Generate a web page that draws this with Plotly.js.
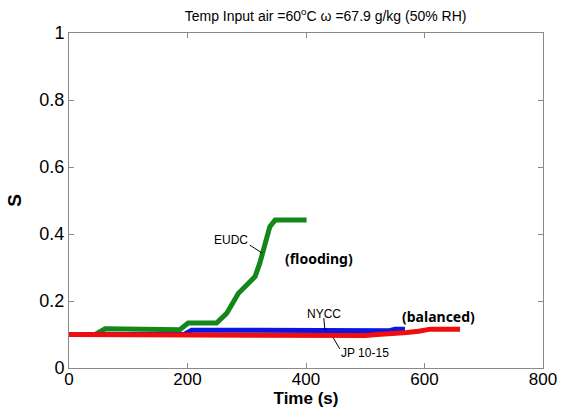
<!DOCTYPE html>
<html>
<head>
<meta charset="utf-8">
<script src="https://cdn.plot.ly/plotly-3.0.1.min.js"></script>
<style>html,body{margin:0;padding:0;background:#fff;}#chart{width:567px;height:408px;}</style>
</head>
<body>
<div id="chart"></div>
<script>
// Data
var eudcTime = [0, 45, 61, 100, 150, 187, 201, 221, 249, 266, 286, 300, 314, 322, 331, 339, 348, 401];
var eudcS    = [0.100, 0.101, 0.117, 0.116, 0.115, 0.114, 0.134, 0.134, 0.134, 0.163, 0.223, 0.248, 0.273, 0.313, 0.372, 0.422, 0.442, 0.442];

var nyccTime = [0, 195, 207, 250, 300, 400, 500, 540, 550, 567];
var nyccS    = [0.100, 0.101, 0.113, 0.113, 0.112, 0.110, 0.110, 0.111, 0.116, 0.116];

var jpTime = [0, 100, 200, 250, 300, 400, 480, 500, 520, 550, 570, 590, 610, 660];
var jpS    = [0.100, 0.099, 0.098, 0.097, 0.096, 0.095, 0.095, 0.097, 0.100, 0.102, 0.106, 0.110, 0.116, 0.116];

var xTicks = [0, 200, 400, 600, 800];
var yTicks = [0, 0.2, 0.4, 0.6, 0.8, 1];
var yTickText = ['0', '0.2', '0.4', '0.6', '0.8', '1'];

var traces = [
  {x: eudcTime, y: eudcS, mode: 'lines', line: {color: '#14871a', width: 5}, name: 'EUDC'},
  {x: nyccTime, y: nyccS, mode: 'lines', line: {color: '#0a16e6', width: 5}, name: 'NYCC'},
  {x: jpTime, y: jpS, mode: 'lines', line: {color: '#f00d0d', width: 5}, name: 'JP 10-15'}
];

var axisCommon = {
  showgrid: false, zeroline: false, showline: true, linecolor: '#8a8a8a', linewidth: 1,
  mirror: 'allticks', ticks: 'inside', ticklen: 5, tickcolor: '#8a8a8a',
  tickfont: {family: 'Liberation Sans, Arial, sans-serif', size: 18, color: '#000'}
};

var layout = {
  width: 567, height: 408,
  margin: {l: 69, r: 24, t: 33, b: 40},
  paper_bgcolor: '#fff', plot_bgcolor: '#fff',
  showlegend: false,
  title: {
    text: 'Temp Input air =60<sup>o</sup>C \u03c9 =67.9 g/kg (50% RH)',
    font: {family: 'Liberation Sans, Arial, sans-serif', size: 14, color: '#000'},
    x: 307 / 567, xref: 'paper', xanchor: 'center',
    y: 1 - 16 / 408, yref: 'container', yanchor: 'middle'
  },
  xaxis: Object.assign({}, axisCommon, {
    range: [0, 800], tickvals: xTicks, ticktext: xTicks.map(String), ticklabelstandoff: -4,
    tickfont: {family: 'Liberation Sans, Arial, sans-serif', size: 17, color: '#000'},
    title: {text: '<b>Time (s)</b>', font: {family: 'Liberation Sans, Arial, sans-serif', size: 17, color: '#000'}, standoff: 8}
  }),
  yaxis: Object.assign({}, axisCommon, {
    range: [0, 1], tickvals: yTicks, ticktext: yTickText,
    title: {text: '<b>S</b>', font: {family: 'Liberation Sans, Arial, sans-serif', size: 19, color: '#000'}, standoff: 12}
  }),
  annotations: [
    {x: 273, y: 0.382, xref: 'x', yref: 'y', text: 'EUDC', showarrow: false,
     font: {family: 'Liberation Sans, Arial, sans-serif', size: 12, color: '#000'}},
    {x: 422, y: 0.328, xref: 'x', yref: 'y', text: '<b>(flooding)</b>', showarrow: false,
     font: {family: 'Noto Sans, sans-serif', size: 14, color: '#000'}},
    {x: 430, y: 0.161, xref: 'x', yref: 'y', text: 'NYCC', showarrow: false,
     font: {family: 'Liberation Sans, Arial, sans-serif', size: 12, color: '#000'}},
    {x: 500, y: 0.045, xref: 'x', yref: 'y', text: 'JP 10-15', showarrow: false,
     font: {family: 'Liberation Sans, Arial, sans-serif', size: 12, color: '#000'}},
    {x: 624, y: 0.155, xref: 'x', yref: 'y', text: '<b>(balanced)</b>', showarrow: false,
     font: {family: 'Noto Sans, sans-serif', size: 14, color: '#000'}}
  ],
  shapes: [
    {type: 'line', xref: 'x', yref: 'y', x0: 305, y0: 0.367, x1: 326, y1: 0.343, line: {color: '#000', width: 1}},
    {type: 'line', xref: 'x', yref: 'y', x0: 430, y0: 0.149, x1: 432, y1: 0.113, line: {color: '#000', width: 1}},
    {type: 'line', xref: 'x', yref: 'y', x0: 446, y0: 0.090, x1: 457, y1: 0.057, line: {color: '#000', width: 1}}
  ]
};

Plotly.newPlot('chart', traces, layout, {displayModeBar: false, staticPlot: true});
</script>
</body>
</html>
